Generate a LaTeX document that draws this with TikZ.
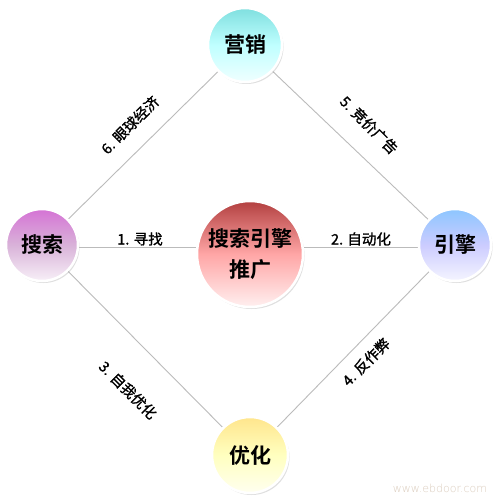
\documentclass[tikz,border=0pt]{standalone}
\usepackage{fontspec}
\newfontfamily\cjk[FakeBold=1.2]{Noto Sans CJK SC}
\newfontfamily\cjkb{Noto Sans CJK SC Bold}
\usetikzlibrary{shadows}
\definecolor{linegray}{HTML}{BBBBBB}
\tikzset{
  ball/.style={circle, draw=white, line width=2.5pt, inner sep=0pt,
    minimum size=#1, font=\cjkb\fontsize{21}{27}\selectfont, text=black,
    align=center, drop shadow={opacity=0.25, shadow xshift=1.5pt, shadow yshift=-2pt}},
  conn/.style={draw=linegray, line width=0.9pt},
  lab/.style={font=\cjk\fontsize{14.5}{16}\selectfont, text=black, inner sep=0pt}
}
\begin{document}
\begin{tikzpicture}[x=1pt,y=-1pt]
\useasboundingbox (0,0) rectangle (500,500);
\fill[white] (0,0) rectangle (500,500);
% centres
\coordinate (A) at (245,45);
\coordinate (B) at (42,245);
\coordinate (C) at (250,254);
\coordinate (D) at (455,245);
\coordinate (E) at (250,455);
\coordinate (hl) at (42,247);
\coordinate (hr) at (455,247);
\draw[conn] (A) -- (B);
\draw[conn] (A) -- (D);
\draw[conn] (B) -- (E);
\draw[conn] (D) -- (E);
\draw[conn] (hl) -- (hr);
% circles
\node[ball=74pt, top color=cyan!50!teal!50, bottom color=cyan!6, middle color=cyan!25] (ying) at (A) {营销};
\node[ball=72pt, top color=violet!60!magenta!55, bottom color=violet!6, middle color=violet!30] (sou) at (B) {搜索};
\node[ball=106pt, top color=red!60!black!75, bottom color=red!6, middle color=red!35, font=\cjkb\fontsize{21}{31}\selectfont] (mid) at (C) {搜索引擎\\推广};
\node[ball=72pt, top color=blue!50!cyan!45, bottom color=blue!4, middle color=blue!20] (yin) at (D) {引擎};
\node[ball=76pt, top color=yellow!55!orange!45, bottom color=yellow!6, middle color=yellow!25] (you) at (E) {优化};
% labels
\node[lab] (l1) at (140,239) {1. 寻找};
\node[lab] (l2) at (361,239) {2. 自动化};
\node[lab, rotate=45] (l6) at (130,125) {6. 眼球经济};
\node[lab, rotate=-45] (l5) at (369,125) {5. 竞价广告};
\node[lab, rotate=-45] (l3) at (128,390) {3. 自我优化};
\node[lab, rotate=45] (l4) at (366,362) {4. 反作弊};
\node[font=\fontspec{DejaVu Sans ExtraLight}\fontsize{11}{12}\selectfont, text=orange!30!gray!40] (wm) at (440,488) {www.ebdoor.com};
\end{tikzpicture}
\end{document}
